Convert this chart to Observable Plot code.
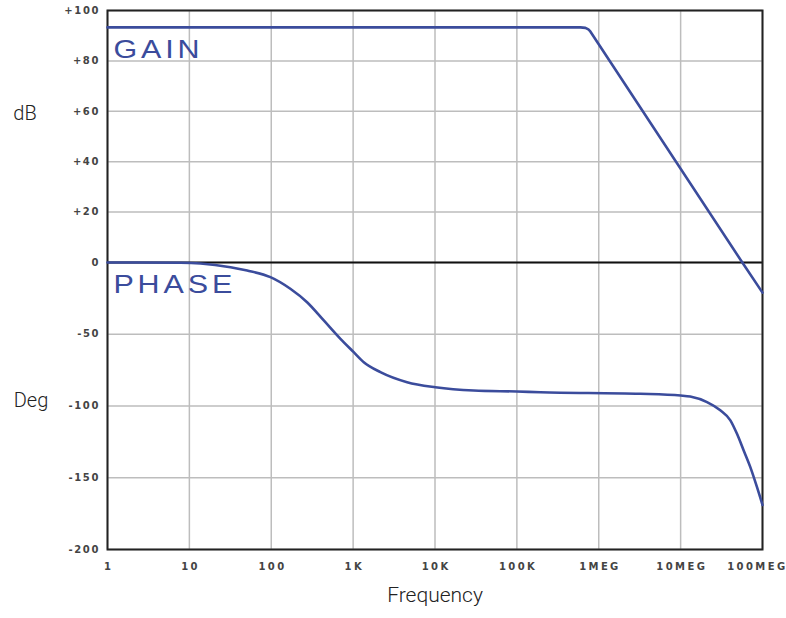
<!DOCTYPE html>
<html>
<head>
<meta charset="utf-8">
<script src="https://cdn.jsdelivr.net/npm/d3@7"></script>
<script src="https://cdn.jsdelivr.net/npm/@observablehq/plot@0.6"></script>
<style>
  html, body { margin: 0; padding: 0; background: #fff; }
  #chart svg { display: block; }
  #chart [aria-label="x-axis tick label"] text { letter-spacing: 2.4px; }
  #chart [aria-label="y-axis tick label"] text { letter-spacing: 1.6px; }
</style>
</head>
<body>
<div id="chart"></div>
<script>
// Frequency axis
const freqTicks = [1, 10, 100, 1e3, 1e4, 1e5, 1e6, 1e7, 1e8];
const freqTickLabels = ["1", "10", "100", "1K", "10K", "100K", "1MEG", "10MEG", "100MEG"];

// Vertical axis (upper half dB, lower half degrees)
const yTicks = [100, 80, 60, 40, 20, 0, -50, -100, -150, -200];
const yTickLabels = ["+100", "+80", "+60", "+40", "+20", "0", "-50", "-100", "-150", "-200"];

// Gain curve (dB)
const gainFreq = [1, 5.96e5, 6.87e5, 7.47e5, 7.89e5, 5.67e7, 1e8];
const gainDb   = [93.3, 93.3, 93.1, 92.5, 91.7, 0, -21];

// Phase curve (degrees)
const phaseFreq = [1, 7.8, 13.7, 31.8, 50.8, 97.7, 171, 274, 438, 700, 1017, 1350, 2154, 4560, 1.01e4, 2.97e4, 1e5, 1.94e5, 3.22e6, 1e7, 1.31e7, 2.1e7, 3.05e7, 4.05e7, 4.88e7, 5.89e7, 7.1e7, 8.57e7, 1e8];
const phaseDeg  = [0, -0.2, -0.7, -3.3, -5.6, -10.2, -18.3, -27.7, -40.4, -53.2, -62.5, -69.5, -76.4, -83.4, -86.9, -89.2, -89.9, -90.4, -91.5, -92.7, -93.4, -97.3, -103, -110, -119.4, -131, -142.6, -156.6, -169];

const curveLabels = ["GAIN", "PHASE"];
const axisTitles = ["dB", "Deg", "Frequency"];

const gain = gainFreq.map((f, i) => ({f, v: gainDb[i]}));
const phase = phaseFreq.map((f, i) => ({f, v: phaseDeg[i]}));

const blue = "#3b4c9c";
const tickFont = "DejaVu Sans, sans-serif";
const titleFont = "Roboto, Liberation Sans, sans-serif";
const xLabel = (d) => freqTickLabels[freqTicks.indexOf(d)];
const lastFreq = freqTicks[freqTicks.length - 1];

const chart = Plot.plot({
  width: 786,
  height: 618,
  marginLeft: 107,
  marginRight: 24,
  marginTop: 10,
  marginBottom: 69,
  style: {fontFamily: "Liberation Sans, Arial, sans-serif", background: "#fff"},
  x: {type: "log", domain: [1, 1e8]},
  y: {type: "linear", domain: [-200, 0, 100], range: [549, 262, 10]},
  marks: [
    Plot.gridX(freqTicks, {stroke: "#bdbdbd", strokeOpacity: 1, strokeWidth: 1.5}),
    Plot.gridY(yTicks, {stroke: "#bdbdbd", strokeOpacity: 1, strokeWidth: 1.5}),
    Plot.ruleY([0], {stroke: "#111", strokeWidth: 2}),
    Plot.frame({stroke: "#222", strokeWidth: 2}),
    Plot.axisX(freqTicks.slice(0, -1), {
      tickSize: 0, tickPadding: 13, label: null, dx: 1.2,
      tickFormat: xLabel,
      fontFamily: tickFont, fontWeight: "bold", fontSize: 10, fill: "#444"
    }),
    Plot.axisX([lastFreq], {
      tickSize: 0, tickPadding: 13, label: null, dx: 25, textAnchor: "end",
      tickFormat: xLabel,
      fontFamily: tickFont, fontWeight: "bold", fontSize: 10, fill: "#444"
    }),
    Plot.axisY(yTicks, {
      tickSize: 0, tickPadding: 7.5, label: null,
      tickFormat: (d) => yTickLabels[yTicks.indexOf(d)],
      fontFamily: tickFont, fontWeight: "bold", fontSize: 10, fill: "#444"
    }),
    Plot.line(gain, {x: "f", y: "v", stroke: blue, strokeWidth: 2.6, curve: "linear", strokeLinejoin: "round"}),
    Plot.line(phase, {x: "f", y: "v", stroke: blue, strokeWidth: 2.6, curve: "monotone-x"}),
    Plot.text([curveLabels[0]], {x: 1.18, y: 82, dy: 2, text: (d) => d, textAnchor: "start", lineAnchor: "bottom",
      fill: blue, fontSize: 26.5, fontFamily: "Liberation Sans, Arial, sans-serif"}),
    Plot.text([curveLabels[1]], {x: 1.18, y: -21, dy: 0, text: (d) => d, textAnchor: "start", lineAnchor: "bottom",
      fill: blue, fontSize: 26.5, fontFamily: "Liberation Sans, Arial, sans-serif"}),
    Plot.text([axisTitles[0]], {frameAnchor: "left", y: 59.1, dx: -82.5, text: (d) => d, textAnchor: "middle",
      fill: "#222", fontSize: 20, fontWeight: 300, fontFamily: titleFont}),
    Plot.text([axisTitles[1]], {frameAnchor: "left", y: -96.2, dx: -76.5, text: (d) => d, textAnchor: "middle",
      fill: "#222", fontSize: 20, fontWeight: 300, fontFamily: titleFont}),
    Plot.text([axisTitles[2]], {frameAnchor: "bottom", dy: 52, text: (d) => d, textAnchor: "middle",
      fill: "#222", fontSize: 21, fontWeight: 300, fontFamily: titleFont})
  ]
});

// the curve labels use a wide, slightly tracked lettering
d3.select(chart).selectAll("text").filter(function () {
  return curveLabels.includes(this.textContent);
}).each(function () {
  const t = d3.select(this);
  const tr = t.attr("transform") || "";
  t.attr("transform", tr + " scale(1.15,1)").style("letter-spacing", "3.4px");
});

document.getElementById("chart").appendChild(chart);
</script>
</body>
</html>
